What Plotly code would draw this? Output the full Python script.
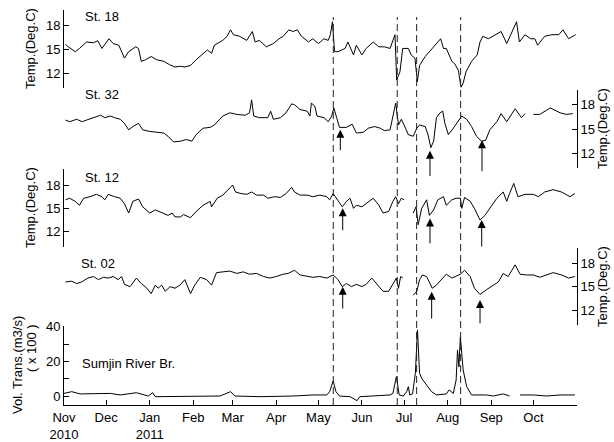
import plotly.graph_objects as go
import pandas as pd

START = pd.Timestamp("2010-11-01")
END = pd.Timestamp("2011-11-01")

# ---------------- data (day offsets from 2010-11-01, values) ----------------
st18_days = [1, 3, 8, 11, 16, 21, 24, 27, 32, 35,
             39, 43, 46, 51, 53, 55, 58, 62, 66, 71,
             75, 79, 83, 86, 90, 94, 102, 105, 107, 113,
             116, 118.5, 120.5, 125, 130, 134, 136, 139, 144, 149,
             153, 156, 160, 163, 166, 169, 174, 177, 181, 185,
             188, 189.5, 191, 192.5, 195, 200, 202, 206, 208, 212,
             215, 220, 224, 228, 232, 235.5, 236.7, 239, 241, 245,
             247, 249.7, 251.4, 253, 257, 260, 264, 268, 270, 272,
             276, 278, 280.6, 282.5, 284, 286, 290, 294, 296, 298,
             302, 305, 309, 311, 315, 319, 322, 324, 328, 332,
             335, 337, 342, 347, 352, 355, 359, 364]
st18_vals = [15.6, 15.3, 14.7, 15.1, 15.9, 15.8, 16.05, 15.1, 16.3, 15.7,
             15.5, 13.9, 14.7, 15.3, 15.1, 13.5, 13.7, 14.1, 13.7, 13.5,
             13.1, 12.8, 12.9, 12.8, 13.0, 13.7, 14.9, 14.5, 15.5, 16.1,
             16.6, 17.4, 16.8, 16.6, 16.1, 17.2, 15.9, 16.1, 15.3, 15.7,
             16.3, 16.6, 17.4, 17.2, 17.4, 16.6, 15.9, 16.3, 15.7, 16.3,
             16.1, 16.8, 18.4, 14.7, 14.7, 15.1, 15.9, 14.3, 15.5, 14.3,
             15.1, 15.9, 15.3, 15.3, 15.1, 16.8, 11.2, 12.2, 15.1, 15.1,
             14.3, 13.9, 11.0, 13.0, 14.1, 14.7, 15.5, 16.3, 15.1, 15.1,
             13.5, 13.2, 12.4, 10.3, 10.8, 12.2, 13.5, 14.3, 15.9, 16.6,
             16.3, 16.6, 17.0, 17.2, 15.7, 17.2, 18.4, 15.9, 16.8, 16.3,
             16.3, 15.5, 16.6, 16.8, 16.8, 17.4, 16.3, 16.8]

st32_days = [1, 4, 9, 13, 16, 21, 26, 29, 33, 36,
             40, 43, 46, 49, 53, 56, 61, 66, 71, 74,
             78, 83, 87, 91, 94, 99, 104, 107, 113, 118,
             123, 129, 132, 133.5, 135, 139, 145, 147, 149, 154,
             158, 162, 164, 168, 173, 175, 176, 178.5, 180, 185,
             188, 190.5, 192, 194, 196, 201, 205, 208, 213, 216.5,
             221, 225, 228, 232, 234, 236, 238, 240, 243, 245,
             248.5, 251, 253, 257, 259, 261, 263, 265, 267.5, 269.5,
             271, 273.5, 277, 280.5, 283, 286.5, 290, 293.5, 297, 300,
             303, 308, 311, 315, 321, 325.5, 328, None, 334, 338.5,
             346, 353, 357.5, 362]
st32_vals = [16.1, 15.9, 16.2, 15.9, 16.1, 16.4, 16.7, 16.4, 16.6, 16.4,
             16.2, 15.7, 14.9, 15.3, 15.7, 14.9, 14.7, 14.6, 14.5, 14.1,
             13.4, 13.5, 13.7, 13.5, 14.3, 15.1, 15.2, 15.5, 16.6, 17.0,
             16.8, 16.7, 17.0, 18.6, 16.6, 16.4, 16.4, 17.2, 16.2, 16.4,
             17.0, 18.1, 18.0, 17.4, 17.2, 16.6, 18.2, 17.8, 16.6, 16.4,
             15.9, 16.6, 17.6, 16.4, 15.2, 15.2, 15.6, 14.5, 14.6, 15.1,
             15.3, 15.1, 14.8, 14.9, 16.4, 18.2, 15.5, 16.2, 15.1, 14.3,
             14.1, 15.1, 15.5, 15.3, 14.3, 12.7, 13.5, 16.4, 17.0, 17.2,
             15.7, 14.3, 15.1, 15.9, 16.6, 16.2, 15.3, 14.1, 13.5, 13.6,
             14.9, 15.9, 16.9, 15.9, 17.5, 16.4, 16.9, None, 16.8, 16.8,
             17.6, 17.0, 16.8, 16.9]

st12_days = [1, 4, 8, 11, 14, 18.5, 23, 27, 29, 31.5,
             36, 40, 43, 46, 49, 53, 56, 61, 65, 71,
             74, 77, 79, 83, 85, 90, 94, 99, 104, 105,
             109, 113, 117, 120, 122, 126, 130, 133.5, 137, 142,
             145, 150, 154, 158, 162, 164, 168, 173, 177, 182,
             187, 189, 191.5, 194, 198, 201, 203.5, 206, 208, 212,
             215, 220, 224, 227, 231, 234, 236, 238, 240, 242,
             None, 248.5, 250.5, 252, 254.5, 258, 260, 263, 266, 270,
             272, 276, 279, 282, 283, 285, 289, 292, 296, 299.5,
             303, 308, 312.5, 315, 317, 320, 323, 328, 334, 337.5,
             342, 348, 354, 360, 363.5]
st12_vals = [16.1, 16.3, 15.9, 15.4, 16.3, 16.5, 16.8, 16.5, 16.1, 16.8,
             16.5, 16.3, 15.6, 14.4, 15.9, 16.2, 15.2, 14.4, 14.8, 14.4,
             14.1, 14.4, 13.9, 13.9, 14.2, 13.8, 14.6, 15.4, 15.9, 15.2,
             16.3, 16.7, 17.4, 18.0, 17.1, 16.9, 16.8, 17.1, 16.7, 16.7,
             16.3, 16.5, 16.4, 16.9, 17.7, 17.1, 16.7, 16.7, 16.5, 16.7,
             16.5, 16.1, 16.9, 16.3, 15.2, 15.9, 16.3, 15.0, 15.4, 15.2,
             15.6, 16.3, 15.4, 14.4, 14.6, 15.9, 16.5, 15.6, 16.3, 16.1,
             None, 14.4, 15.2, 12.9, 15.0, 16.1, 14.1, 14.8, 16.1, 16.5,
             15.4, 16.1, 16.3, 16.3, 15.0, 16.4, 15.9, 15.0, 13.5, 14.1,
             15.0, 16.3, 17.1, 15.9, 16.9, 18.2, 16.5, 16.8, 16.8, 16.5,
             17.1, 17.4, 17.1, 16.5, 16.9]

st02_days = [1, 5.5, 9, 12.5, 17, 21, 24.5, 28, 31.5, 35,
             38.5, 41, 43, 47, 51.5, 55, 59, 62, 65, 67,
             69.5, 72, 75.5, 79, 82.5, 86, 90, 93, 97, 101.5,
             105, 108.5, 113, 118, 123, 127.5, 132, 137, 142, 146.5,
             151, 156, 159.5, 164, 168, 172.5, 177, 182, 187, 191.5,
             195, 198, 201, 204.5, 208, 212, 215, 219, 222.5, 227,
             231, 234, 236.5, 238, 239.5, 241, None, 248.5, 251, 253,
             255, 258, 260, 262, 265, 268.5, 272, 276, 279, 282,
             285, 289, 292, 296, 300.5, 305.5, 309, 312.5, 316, 321,
             324.5, 329, 334, 338.5, 343.5, 348, 354, 359, 363.5]
st02_vals = [15.6, 15.7, 15.4, 15.6, 16.1, 16.3, 15.9, 16.2, 16.1, 16.3,
             15.9, 16.3, 15.3, 15.0, 16.1, 15.4, 14.8, 14.1, 15.2, 14.8,
             15.2, 14.4, 15.0, 14.8, 15.2, 15.9, 14.1, 15.2, 16.2, 15.9,
             15.2, 16.8, 16.9, 17.0, 16.7, 16.9, 16.6, 16.7, 16.3, 16.1,
             16.3, 16.6, 16.7, 17.1, 16.5, 16.3, 16.2, 16.3, 16.1, 16.5,
             15.9, 15.0, 15.4, 15.0, 15.3, 15.0, 15.3, 16.1, 15.4, 14.4,
             14.4, 15.4, 16.1, 14.8, 16.3, 16.1, None, 13.9, 14.4, 15.9,
             16.5, 16.3, 15.6, 14.8, 15.2, 15.9, 16.6, 16.1, 16.3, 16.6,
             17.1, 16.3, 14.8, 14.0, 14.6, 15.2, 15.6, 16.7, 16.3, 17.8,
             16.6, 16.5, 16.5, 16.2, 16.5, 16.8, 16.5, 16.1, 16.3]

vol_days = [0, 5.5, 11.5, 21, 33, 40, 51.5, 60, 63, 65,
            80, 92, 111, 118.5, 121.5, 139.5, 151, 163, 177.5, 187,
            189, 191.5, 193.5, 196, 203.5, 208.5, 210.5, 222.5, 232, 234,
            236.5, 238.5, 241.5, 243.8, 245, 246, 248, 250, 251.5, 253,
            254.5, 258, 261.5, 265, 272, 274, 277, 279, 280, 281,
            282, 284, 286.5, 290, 300.5, 305.5, 312.5, 317, None, 324.5,
            334, 343.5, 353, 363.5]
vol_vals = [1.5, 2.5, 1.2, 1.2, 1.5, 0.6, 1.9, 0.0, 1.9, -0.4,
            -0.4, 0.0, 0.0, 2.5, 0.0, -0.4, -0.4, 0.0, 0.6, 0.6,
            2.5, 8.7, 2.5, 0.0, -0.4, -2.7, -0.4, 0.0, 0.6, 1.5,
            11.2, 0.6, 0.0, 2.5, 5.4, 0.6, 1.2, 13.1, 38.1, 13.1,
            10.2, 6.3, 2.5, 0.6, 1.2, 3.5, 1.5, 9.2, 26.5, 16.9,
            34.2, 15.0, 5.4, 0.6, 0.6, 0.0, 1.2, 0.0, None, 0.6,
            0.6, 0.0, 0.6, 0.6]

# dashed event lines (day offsets)
event_days = [191.6, 237.1, 250.9, 282.2]

# arrows: day, tip value, tail value
arrows32_days = [196.6, 260.4, 297.4]
arrows32_tip = [14.9, 12.3, 13.6]
arrows32_tail = [12.2, 9.0, 9.6]
arrows12_days = [198.3, 260.4, 297.2]
arrows12_tip = [15.0, 13.7, 13.5]
arrows12_tail = [12.0, 10.3, 9.9]
arrows02_days = [198.3, 261.6, 296.0]
arrows02_tip = [15.0, 14.35, 13.3]
arrows02_tail = [12.0, 10.7, 10.1]

month_ticks = ["2010-11-01", "2010-12-01", "2011-01-01", "2011-02-01", "2011-03-01",
               "2011-04-01", "2011-05-01", "2011-06-01", "2011-07-01", "2011-08-01",
               "2011-09-01", "2011-10-01"]
month_labels = ["Nov<br>2010", "Dec", "Jan<br>2011", "Feb", "Mar", "Apr", "May",
                "Jun", "Jul", "Aug", "Sep", "Oct"]
temp_ticks = [12, 15, 18]
vol_ticks = [0, 10, 20, 30, 40]
vol_ticklabels = ["0", "", "20", "", "40"]


def to_dates(days):
    return [None if d is None else START + pd.Timedelta(days=d) for d in days]


W, H = 614, 442
XL, XR = 64, 577
FONT = "Liberation Sans, Arial, sans-serif"


def fy(p):
    return 1 - p / H


def fx(p):
    return p / W


# panel geometry in pixels: top, bottom, tick pixel A/value A, tick pixel B/value B
panels = [
    dict(top=10, bot=88, pa=25, va=18, pb=73.5, vb=12, side="left"),
    dict(top=90, bot=168, pa=104.7, va=18, pb=153.3, vb=12, side="right"),
    dict(top=169, bot=247, pa=185, va=18, pb=231.7, vb=12, side="left"),
    dict(top=248, bot=325, pa=263.3, va=18, pb=310, vb=12, side="right"),
    dict(top=326, bot=405, pa=326.7, va=40, pb=396, vb=0, side="left"),
]

fig = go.Figure()
series = [(st18_days, st18_vals), (st32_days, st32_vals), (st12_days, st12_vals),
          (st02_days, st02_vals), (vol_days, vol_vals)]
for i, (d, v) in enumerate(series):
    fig.add_trace(go.Scatter(x=to_dates(d), y=v, xaxis="x",
                             yaxis="y" if i == 0 else f"y{i+1}",
                             mode="lines", line=dict(color="black", width=1),
                             connectgaps=False, hoverinfo="skip", showlegend=False))

layout = dict(
    template="none",
    width=W, height=H, margin=dict(l=0, r=0, t=0, b=0, pad=0),
    paper_bgcolor="white", plot_bgcolor="white", showlegend=False,
    font=dict(family=FONT, size=13, color="black"),
    xaxis=dict(domain=[fx(XL), fx(XR)], range=[START, END], type="date",
               anchor="y5", showline=True, linecolor="black", linewidth=1,
               ticks="inside", ticklen=5, tickcolor="black", tickwidth=1,
               tickvals=month_ticks, ticktext=month_labels, showgrid=False,
               zeroline=False, automargin=False, mirror=False,
               tickfont=dict(family=FONT, size=13, color="black")),
)
for i, p in enumerate(panels):
    ppv = (p["pb"] - p["pa"]) / (p["va"] - p["vb"])
    hi = p["va"] + (p["pa"] - p["top"]) / ppv
    lo = p["vb"] - (p["bot"] - p["pb"]) / ppv
    ax = dict(domain=[fy(p["bot"]), fy(p["top"])], range=[lo, hi], anchor="x",
              side=p["side"], showline=True, linecolor="black", linewidth=1,
              ticks="inside", ticklen=5, tickcolor="black", tickwidth=1,
              showgrid=False, zeroline=False, automargin=False,
              tickfont=dict(family=FONT, size=13, color="black"))
    if i < 4:
        ax["tickvals"] = temp_ticks
    else:
        ax["tickvals"] = vol_ticks
        ax["ticktext"] = vol_ticklabels
    layout["yaxis" if i == 0 else f"yaxis{i+1}"] = ax
fig.update_layout(**layout)

# dashed event lines
for d in to_dates(event_days):
    fig.add_shape(type="line", xref="x", yref="paper", x0=d, x1=d,
                  y0=fy(405), y1=fy(17),
                  line=dict(color="#222222", width=1, dash="7px,4px"))

# arrows
for yref, ds, tips, tails in [("y2", arrows32_days, arrows32_tip, arrows32_tail),
                              ("y3", arrows12_days, arrows12_tip, arrows12_tail),
                              ("y4", arrows02_days, arrows02_tip, arrows02_tail)]:
    for d, t, tl in zip(to_dates(ds), tips, tails):
        fig.add_annotation(x=d, y=t, ax=d, ay=tl, xref="x", yref=yref,
                           axref="x", ayref=yref, text="", showarrow=True,
                           arrowhead=2, arrowsize=1.6, arrowwidth=1,
                           arrowcolor="black", standoff=0, startstandoff=0)

# station labels
labels = [("St. 18", 83, 17), ("St. 32", 83, 94), ("St. 12", 83, 177),
          ("St. 02", 79, 263), ("Sumjin River Br.", 80, 363)]
for txt, x, y in labels:
    fig.add_annotation(text=txt, x=fx(x), y=fy(y), xref="paper", yref="paper",
                       xanchor="left", yanchor="middle", showarrow=False,
                       font=dict(family=FONT, size=13, color="black"))

# axis titles
titles = [("Temp.(Deg.C)", 30, 49), ("Temp.(Deg.C)", 602, 129),
          ("Temp.(Deg.C)", 30, 208), ("Temp.(Deg.C)", 602, 287),
          ("Vol. Trans.(m3/s)", 17, 365), ("( x 100 )", 31, 348)]
for txt, x, y in titles:
    fig.add_annotation(text=txt, x=fx(x), y=fy(y), xref="paper", yref="paper",
                       xanchor="center", yanchor="middle", textangle=-90,
                       showarrow=False, font=dict(family=FONT, size=13, color="black"))

fig.write_html("out.html", config={"displayModeBar": False},
               post_script="document.body.style.margin='0px';document.body.style.padding='0px';")
